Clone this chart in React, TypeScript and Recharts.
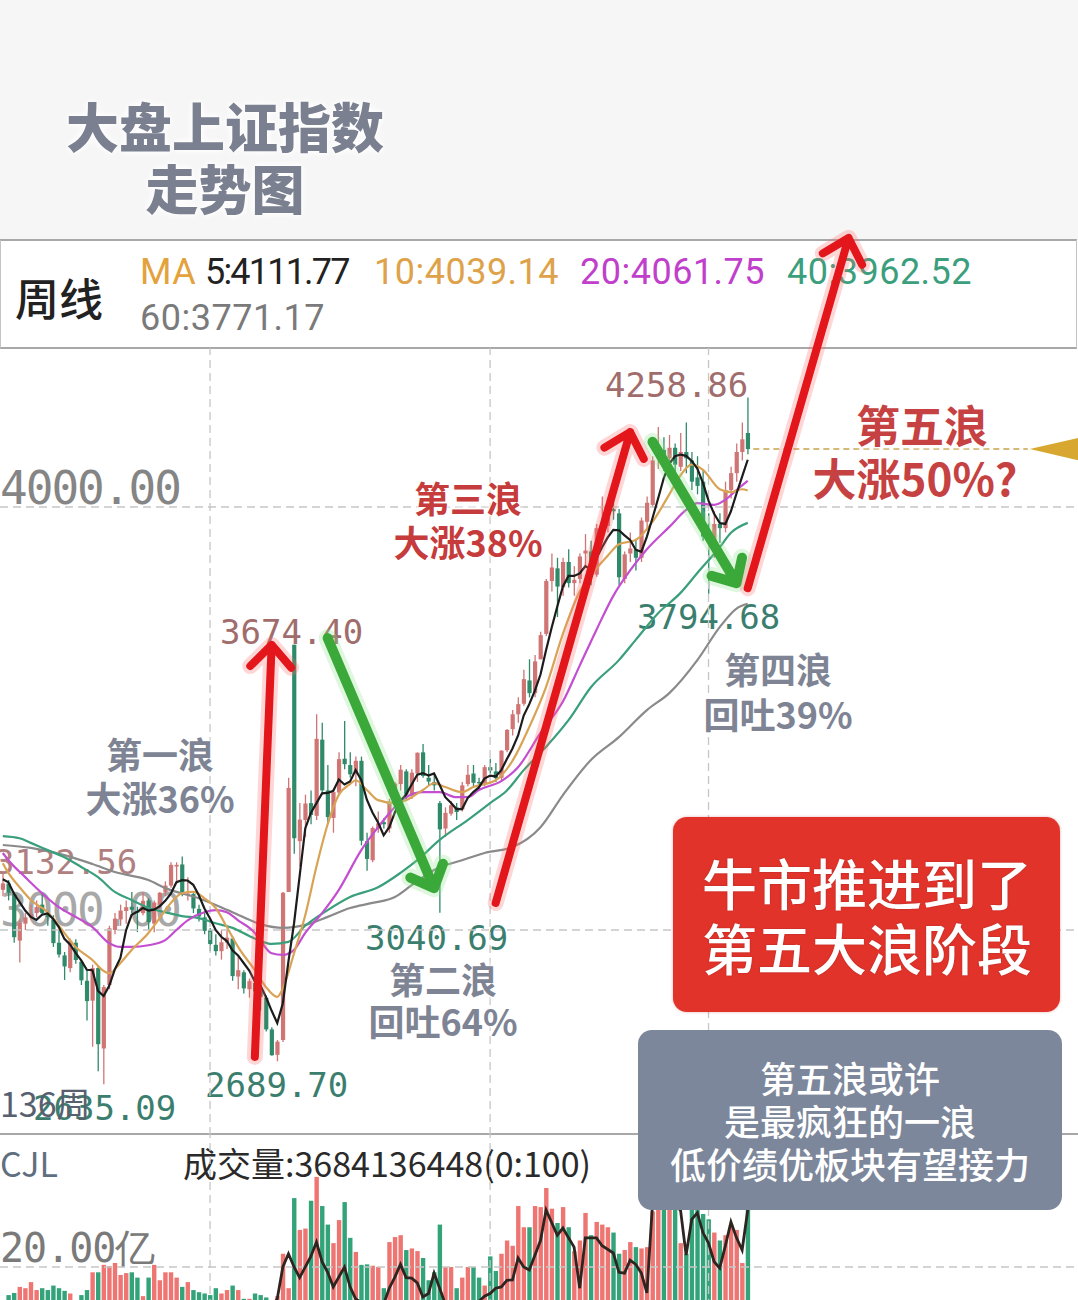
import React from 'react';
import { ComposedChart, Bar, Line, XAxis, YAxis, ReferenceLine } from 'recharts';

// ---------- layout constants ----------
const SLOTS = 193; // weekly slots across the full width (134 weeks of data + empty room on the right)
const CHART_W = 1081;
const PRICE_DOMAIN: [number, number] = [2515.4, 4375.9];
const VOL_DOMAIN: [number, number] = [0, 69.81];

// ---------- weekly candles (index 0 = week of 2023-09-25) ----------
const opens = [
  3095, 3110, 3085, 2975, 3015, 3030, 3040, 3060, 3035, 3025, 2970, 2940, 2910, 2970, 2925, 2880, 2833, 2910, 2720, 2870,
  3000, 3025, 3045, 3055, 3045, 3040, 3070, 3015, 3060, 3090, 3105, 3150, 3155, 3085, 3085, 3050, 3030, 3000, 2965, 2950,
  2970, 2980, 2890, 2900, 2860, 2875, 2855, 2840, 2765, 2705, 2740, 3090, 3674.4, 3210, 3260, 3300, 3270, 3450, 3330, 3265,
  3325, 3405, 3390, 3370, 3400, 3210, 3165, 3240, 3255, 3240, 3300, 3345, 3375, 3320, 3370, 3420, 3360, 3350, 3300, 3240,
  3275, 3290, 3285, 3345, 3370, 3350, 3345, 3385, 3375, 3360, 3425, 3475, 3510, 3535, 3590, 3560, 3640, 3700, 3825, 3855,
  3810, 3870, 3820, 3830, 3890, 3895, 3840, 3950, 3955, 3995, 3985, 3830, 3890, 3900, 3880, 3965, 4005, 4115, 4135, 4115,
  4140, 4095, 4130, 4110, 4070, 4060, 3930, 3920, 3960, 3950, 4040, 4080, 4130, 4175,
];
const highs = [
  3132.56, 3118, 3090, 3025, 3040, 3060, 3070, 3090, 3045, 3035, 3000, 2948, 2980, 2978, 2930, 2905, 2918, 2915, 2870, 3010,
  3040, 3060, 3070, 3090, 3055, 3090, 3075, 3070, 3090, 3115, 3160, 3160, 3174, 3125, 3090, 3060, 3045, 3005, 2990, 3000,
  3000, 2985, 2940, 2905, 2885, 2890, 2860, 2845, 2770, 2740, 3090, 3360, 3674.4, 3300, 3320, 3330, 3510, 3490, 3390, 3330,
  3420, 3494, 3420, 3410, 3410, 3230, 3245, 3280, 3265, 3310, 3350, 3390, 3380, 3380, 3420, 3440, 3390, 3370, 3305, 3290,
  3305, 3300, 3350, 3390, 3390, 3360, 3390, 3405, 3395, 3425, 3475, 3520, 3550, 3615, 3640, 3650, 3705, 3830, 3890, 3880,
  3880, 3900, 3860, 3890, 3936, 3920, 3960, 4025, 4010, 4030, 3995, 3895, 3940, 3925, 3975, 4025, 4120, 4189, 4165, 4170,
  4150, 4175, 4200, 4130, 4120, 4090, 3985, 3990, 3985, 4060, 4095, 4150, 4200, 4258.86,
];
const lows = [
  3080, 3070, 2970, 2923, 3000, 3025, 3030, 3035, 3010, 2960, 2935, 2882, 2900, 2920, 2870, 2786, 2724, 2666, 2635.09, 2860,
  2990, 3010, 3015, 3040, 2995, 3035, 3000, 2995, 3050, 3080, 3100, 3110, 3080, 3070, 3040, 3020, 2990, 2950, 2940, 2930,
  2955, 2880, 2860, 2850, 2840, 2845, 2810, 2760, 2703, 2689.7, 2735, 3090, 3180, 3150, 3220, 3250, 3260, 3320, 3250, 3230,
  3320, 3380, 3360, 3340, 3200, 3140, 3160, 3230, 3240, 3230, 3290, 3330, 3310, 3310, 3350, 3360, 3340, 3330, 3040.69, 3220,
  3270, 3260, 3280, 3340, 3340, 3330, 3340, 3370, 3350, 3350, 3420, 3460, 3490, 3530, 3550, 3550, 3640, 3695, 3800, 3740,
  3790, 3810, 3790, 3820, 3860, 3815, 3835, 3940, 3940, 3970, 3815, 3820, 3870, 3850, 3870, 3950, 4000, 4090, 4085, 4100,
  4070, 4085, 4080, 4040, 4030, 3920, 3794.68, 3880, 3915, 3940, 4020, 4060, 4110, 4125,
];
const closes = [
  3110, 3088, 2983, 3017, 3030, 3038, 3054, 3040, 3031, 2969, 2942, 2914, 2975, 2929, 2881, 2832, 2910, 2730, 2865, 3004,
  3027, 3046, 3054, 3048, 3041, 3069, 3019, 3065, 3088, 3105, 3154, 3154, 3088, 3086, 3051, 3032, 2998, 2967, 2950, 2971,
  2982, 2891, 2905, 2862, 2879, 2855, 2842, 2765, 2704, 2736, 3088, 3336, 3217, 3261, 3299, 3272, 3452, 3330, 3267, 3326,
  3404, 3392, 3368, 3400, 3211, 3168, 3241, 3252, 3250, 3303, 3346, 3379, 3320, 3372, 3419, 3364, 3351, 3342, 3238, 3277,
  3295, 3279, 3342, 3367, 3348, 3347, 3385, 3377, 3359, 3424, 3473, 3510, 3534, 3593, 3560, 3635, 3697, 3825, 3857, 3812,
  3870, 3820, 3828, 3883, 3897, 3839, 3950, 3955, 3997, 3990, 3834, 3888, 3902, 3880, 3968, 4010, 4110, 4130, 4120, 4140,
  4100, 4130, 4115, 4060, 4050, 3930, 3920, 3960, 3950, 4040, 4080, 4130, 4160, 4137,
];
// weekly volume, in 亿
const volumes = [
  7, 9.4, 10.2, 12.5, 12, 14.3, 11.3, 12, 11.3, 13, 12, 11, 10, 7, 9.4, 11.3, 18, 18, 20.8, 20.4,
  21.5, 17, 17.7, 18, 16, 9, 16, 20.8, 15, 18, 18, 16, 12.5, 14.3, 11.3, 10.5, 10, 9.4, 12, 10,
  11.3, 13, 11.3, 8, 8, 10, 9.4, 8.5, 7.5, 9, 25, 12, 46, 34, 34.5, 45, 54, 43, 36, 29,
  37.7, 44.5, 31, 25.7, 20.8, 21, 20.5, 20, 12, 29.4, 31.3, 32, 26.4, 27, 26, 23.4, 15, 18, 36, 20,
  20, 12, 16, 20, 20, 16, 13, 24, 18.5, 25, 30, 28, 43, 35, 35, 43, 42.6, 49.8, 42, 36.6,
  42.6, 35, 26, 30, 40.4, 32, 37, 36, 35, 33, 25, 26.4, 29.4, 27.5, 27, 27.5, 41, 50, 48, 45,
  42, 29, 25, 44, 46, 40, 38, 33, 30, 32, 36, 34, 21.5, 44,
];

// ---------- moving averages ----------
const ma5 = [
  3120, 3113, 3086, 3066, 3046, 3031, 3024, 3036, 3039, 3026, 3007, 2979, 2966, 2946, 2928, 2906, 2905, 2856, 2844, 2868,
  2907, 2934, 2999, 3036, 3043, 3052, 3046, 3048, 3056, 3069, 3086, 3113, 3118, 3117, 3107, 3082, 3051, 3027, 3000, 2984,
  2974, 2952, 2940, 2922, 2904, 2878, 2869, 2841, 2809, 2780, 2827, 2926, 3016, 3128, 3240, 3277, 3300, 3323, 3324, 3329,
  3356, 3344, 3351, 3378, 3355, 3308, 3278, 3254, 3224, 3243, 3278, 3306, 3320, 3344, 3367, 3371, 3365, 3370, 3343, 3314,
  3301, 3286, 3286, 3312, 3326, 3337, 3358, 3365, 3363, 3378, 3404, 3429, 3460, 3507, 3534, 3566, 3604, 3662, 3715, 3765,
  3812, 3837, 3837, 3843, 3860, 3853, 3879, 3905, 3928, 3946, 3945, 3933, 3922, 3899, 3894, 3930, 3974, 4020, 4068, 4102,
  4120, 4124, 4121, 4109, 4091, 4057, 4015, 3984, 3962, 3960, 3990, 4032, 4072, 4111.77,
];
const ma10Pts: [number, number][] = [
  [0, 3158], [1, 3135], [3, 3101], [5, 3071], [8, 3042], [10, 3010], [13, 2960], [16, 2929], [18, 2903], [19, 2898],
  [21, 2922], [23, 2953], [26, 2993], [28, 3028], [30, 3064], [32, 3087], [34, 3090], [36, 3075], [38, 3052], [40, 3007],
  [42, 2960], [45, 2905], [47, 2865], [49, 2842], [50, 2862], [52, 2945], [54, 3035], [56, 3150], [58, 3250], [60, 3320],
  [62, 3345], [63, 3354], [65, 3331], [67, 3307], [70, 3300], [72, 3307], [75, 3331], [77, 3347], [79, 3338], [82, 3326],
  [84, 3338], [88, 3354], [91, 3400], [94, 3480], [97, 3575], [100, 3700], [103, 3800], [106, 3855], [108, 3885],
  [110, 3912], [113, 3922], [116, 3965], [119, 4030], [121, 4075], [123, 4100], [125, 4088], [128, 4042], [130, 4035],
  [132, 4042], [133, 4039.14],
];
const ma20Pts: [number, number][] = [
  [0, 3182], [1, 3165], [4, 3125], [7, 3087], [10, 3054], [13, 3031], [16, 3007], [19, 2969], [21, 2960], [23, 2960],
  [26, 2964], [29, 2976], [31, 3000], [33, 3023], [36, 3042], [38, 3047], [40, 3042], [42, 3023], [45, 2993], [46, 2975],
  [48, 2945], [50, 2941], [52, 2953], [54, 2993], [57, 3040], [60, 3095], [64, 3189], [67, 3243], [70, 3291], [72, 3314],
  [75, 3326], [78, 3326], [81, 3314], [83, 3314], [85, 3331], [89, 3352], [92, 3385], [96, 3466], [100, 3540], [103, 3625],
  [106, 3710], [109, 3790], [112, 3850], [115, 3900], [119, 3953], [122, 3993], [124, 4009], [127, 4005], [129, 4017],
  [131, 4040], [133, 4061.75],
];
const ma40Pts: [number, number][] = [
  [0, 3222], [3, 3217], [5, 3206], [8, 3189], [11, 3172], [14, 3149], [17, 3125], [20, 3090], [23, 3071], [26, 3052],
  [29, 3042], [32, 3033], [35, 3028], [38, 3016], [41, 3005], [44, 2986], [46, 2974], [48, 2967], [51, 2972], [54, 3010],
  [58, 3047], [62, 3078], [67, 3101], [71, 3135], [74, 3165], [78, 3213], [83, 3260], [87, 3300], [90, 3330], [93, 3378],
  [97, 3433], [101, 3496], [105, 3574], [110, 3638], [113, 3686], [117, 3749], [121, 3797], [124, 3844], [128, 3905],
  [130, 3939], [133, 3962.52],
];
const ma60Pts: [number, number][] = [
  [0, 3201], [5, 3194], [11, 3177], [16, 3156], [20, 3137], [26, 3118], [29, 3099], [35, 3075], [41, 3042], [46, 3014],
  [50, 3005], [54, 3012], [58, 3031], [62, 3052], [66, 3064], [70, 3078], [73, 3106], [77, 3142], [82, 3165], [86, 3182],
  [91, 3196], [96, 3243], [100, 3319], [105, 3402], [110, 3456], [115, 3520], [119, 3560], [124, 3638], [128, 3716],
  [131, 3760], [133, 3771.17],
];
// dark line in the volume panel
const volLinePts: [number, number][] = [
  [0, 5], [25, 5], [48, 5], [49, 8], [50, 20], [51, 25], [52, 20], [53, 16], [55, 24], [56, 29.4], [57, 22], [58, 18],
  [59, 12.5], [61, 20], [62, 12.5], [63, 8], [65, 5], [68, 6], [69, 12], [70, 16.2], [71, 21], [72, 16], [73, 15.8],
  [74, 14], [75, 8.7], [76, 10], [77, 17.7], [78, 12], [79, 6], [84, 5], [86, 9], [87, 10], [88, 12], [89, 12.5], [90, 15],
  [91, 15.1], [92, 23.4], [93, 20], [94, 18.9], [96, 30], [97, 41.5], [99, 32], [100, 34.7], [101, 31], [102, 27.5],
  [103, 12], [104, 31], [106, 31], [107, 28], [109, 25.3], [110, 18], [111, 17.7], [112, 22.6], [113, 21], [114, 17.7],
  [115, 10.2], [116, 44], [117, 48], [118, 50], [119, 46], [120, 43], [121, 41.5], [122, 24.5], [123, 38], [124, 40.4],
  [125, 33], [126, 29], [127, 22], [128, 19.6], [129, 28], [130, 37], [131, 31], [132, 26.4], [133, 41.5],
];

// ---------- reference values ----------
const gridPrices = [4000, 3000];
const gridVolumes = [20];
const dividerWeeks = [37, 87, 126];
const lastPrice = 4137;
const lastPriceSpan: [number, number] = [134, 183];

// annotation arrows: [week, price] -> [week, price]
const arrows = [
  { from: [45, 2700], to: [48, 3674], dir: 'up' },
  { from: [58, 3690], to: [77, 3099], dir: 'down' },
  { from: [88, 3064], to: [112, 4177], dir: 'up' },
  { from: [116, 4154], to: [131, 3820], dir: 'down' },
  { from: [133, 3808], to: [151, 4636], dir: 'up' },
];

// ---------- colours ----------
const UP = '#d07474';
const DN = '#2f8a69';
const VUP = '#ee7572';
const VDN = '#33a47a';
const C_MA5 = '#1c1c1c';
const C_MA10 = '#d9a356';
const C_MA20 = '#c34fd0';
const C_MA40 = '#3a9f7b';
const C_MA60 = '#8a8a8a';

// ---------- table ----------
const rows = Array.from({ length: SLOTS }, (_, i) => {
  const r: Record<string, any> = { i };
  if (i < closes.length) {
    r.o = opens[i];
    r.h = highs[i];
    r.l = lows[i];
    r.c = closes[i];
    r.range = [lows[i], highs[i]];
    r.up = closes[i] >= opens[i];
    r.vol = volumes[i];
    r.ma5 = ma5[i];
  }
  return r;
});
const put = (key: string, pts: [number, number][]) => pts.forEach(([i, v]) => { rows[i][key] = v; });
put('ma10', ma10Pts);
put('ma20', ma20Pts);
put('ma40', ma40Pts);
put('ma60', ma60Pts);
put('vma', volLinePts);

// ---------- shapes ----------
function Candle(props: any) {
  const { x, y, width, height, payload } = props;
  if (!payload || payload.h == null || x == null || y == null) return null;
  const top = Math.min(y, y + height);
  const h = Math.abs(height);
  const k = h / Math.max(1e-6, payload.h - payload.l);
  const yo = top + (payload.h - payload.o) * k;
  const yc = top + (payload.h - payload.c) * k;
  const cx = x + width / 2;
  const col = payload.up ? UP : DN;
  const bt = Math.min(yo, yc);
  const bh = Math.max(1.3, Math.abs(yc - yo));
  return (
    <g>
      <line x1={cx} x2={cx} y1={top} y2={top + h} stroke={col} strokeWidth={1.3} />
      <rect x={cx - 2.1} y={bt} width={4.2} height={bh} fill={col} />
    </g>
  );
}

function VolBar(props: any) {
  const { x, y, width, height, payload } = props;
  if (!payload || payload.vol == null || x == null) return null;
  const top = Math.min(y, y + height);
  const cx = x + width / 2;
  return <rect x={cx - 2.2} y={top} width={4.4} height={Math.abs(height)} fill={payload.up ? VUP : VDN} />;
}

function arrowShape(color: string, glow: string, w: number, head: number) {
  return (p: any) => {
    const { x1, y1, x2, y2 } = p;
    if (![x1, y1, x2, y2].every((v) => typeof v === 'number' && isFinite(v))) return <g />;
    const ang = Math.atan2(y2 - y1, x2 - x1);
    const back = ang + Math.PI;
    const s = 0.75;
    const hx1 = x2 + head * Math.cos(back - s);
    const hy1 = y2 + head * Math.sin(back - s);
    const hx2 = x2 + head * Math.cos(back + s);
    const hy2 = y2 + head * Math.sin(back + s);
    const d = `M${x1},${y1}L${x2},${y2}M${hx1},${hy1}L${x2},${y2}L${hx2},${hy2}`;
    return (
      <g>
        <path d={d} fill="none" stroke={glow} strokeWidth={w + 8} strokeLinecap="round" strokeLinejoin="round" opacity={0.28} />
        <path d={d} fill="none" stroke={color} strokeWidth={w} strokeLinecap="round" strokeLinejoin="round" />
      </g>
    );
  };
}

const priceLineShape = (p: any) => {
  const { x1, y1, x2 } = p;
  if (![x1, y1, x2].every((v) => typeof v === 'number' && isFinite(v))) return <g />;
  return (
    <g>
      <line x1={x1} y1={y1} x2={x2} y2={y1} stroke="#c8a24c" strokeWidth={1.6} strokeDasharray="6 4" />
      <polygon points={`${x2 + 2},${y1} ${x2 + 54},${y1 - 12} ${x2 + 54},${y1 + 12}`} fill="#d8a72f" />
    </g>
  );
};

// ---------- text helpers ----------
const CJK = "'Noto Sans CJK SC', 'Noto Sans', sans-serif";
const MONO = "'DejaVu Sans Mono', monospace";
const LATIN = "Roboto, 'Noto Sans CJK SC', sans-serif";

function Txt({ x, y, anchor = 'middle', children, style }: any) {
  return (
    <div
      style={{
        position: 'absolute',
        left: x,
        top: y,
        transform: `translate(${anchor === 'start' ? '0' : '-50%'}, -50%)`,
        whiteSpace: 'nowrap',
        lineHeight: 1,
        ...style,
      }}
    >
      {children}
    </div>
  );
}

const glowWhite = '0 0 3px #fff, 0 0 6px #fff, 0 0 8px #fff';
const waveGray = { fontFamily: CJK, fontWeight: 700, fontSize: 36, color: '#7e8494', textShadow: glowWhite };
const waveRed = { fontFamily: CJK, fontWeight: 700, fontSize: 36, color: '#c63b3b', textShadow: glowWhite };
const hiLabel = { fontFamily: MONO, fontSize: 34, color: '#a06c6c' };
const loLabel = { fontFamily: MONO, fontSize: 34, color: '#3b7e6e' };
const headStyle = { fontFamily: LATIN, fontSize: 36, letterSpacing: 0.5 };

export default function App() {
  return (
    <div style={{ position: 'absolute', left: 0, top: 0, width: 1078, height: 1300, overflow: 'hidden', background: '#fff' }}>
      {/* ---------- background layer ---------- */}
      <div style={{ position: 'absolute', left: 0, top: 0, width: 1078, height: 240, background: '#f6f6f6' }} />
      <Txt x={225} y={125} style={{ fontFamily: CJK, fontWeight: 900, fontSize: 53, color: '#7b8090', textShadow: glowWhite }}>大盘上证指数</Txt>
      <Txt x={225} y={187} style={{ fontFamily: CJK, fontWeight: 900, fontSize: 53, color: '#7b8090', textShadow: glowWhite }}>走势图</Txt>

      <div
        style={{
          position: 'absolute', left: 0, top: 239, width: 1075, height: 106, background: '#fff',
          borderTop: '2px solid #a8a8a8', borderBottom: '2px solid #a8a8a8', borderLeft: '1px solid #c4c4c4', borderRight: '1px solid #c4c4c4',
        }}
      />
      <Txt x={15} y={297} anchor="start" style={{ fontFamily: CJK, fontWeight: 500, fontSize: 44, color: '#222' }}>周线</Txt>
      <Txt x={140} y={272} anchor="start" style={{ ...headStyle, color: '#e3a23b' }}>MA</Txt>
      <Txt x={205} y={272} anchor="start" style={{ ...headStyle, letterSpacing: -1.8, color: '#222' }}>5:4111.77</Txt>
      <Txt x={374} y={272} anchor="start" style={{ ...headStyle, color: '#dea24a' }}>10:4039.14</Txt>
      <Txt x={580} y={272} anchor="start" style={{ ...headStyle, color: '#c03fcb' }}>20:4061.75</Txt>
      <Txt x={787} y={272} anchor="start" style={{ ...headStyle, color: '#3b9f7d' }}>40:3962.52</Txt>
      <Txt x={140} y={318} anchor="start" style={{ ...headStyle, color: '#7a7a7a' }}>60:3771.17</Txt>

      {/* axis labels */}
      <Txt x={0} y={488} anchor="start" style={{ fontFamily: MONO, fontSize: 46, letterSpacing: -2, color: '#858585' }}>4000.00</Txt>
      <Txt x={0} y={910} anchor="start" style={{ fontFamily: MONO, fontSize: 46, letterSpacing: -2, color: '#a8a8a8' }}>3000.00</Txt>

      {/* extreme value labels */}
      <Txt x={605} y={385} anchor="start" style={hiLabel}>4258.86</Txt>
      <Txt x={220} y={632} anchor="start" style={hiLabel}>3674.40</Txt>
      <Txt x={-6} y={862} anchor="start" style={{ ...hiLabel, color: '#b08080' }}>3132.56</Txt>
      <Txt x={365} y={938} anchor="start" style={loLabel}>3040.69</Txt>
      <Txt x={637} y={617} anchor="start" style={loLabel}>3794.68</Txt>
      <Txt x={205} y={1085} anchor="start" style={loLabel}>2689.70</Txt>
      <Txt x={33} y={1108} anchor="start" style={loLabel}>2635.09</Txt>
      <Txt x={0} y={1103} anchor="start" style={{ fontFamily: CJK, fontSize: 34, color: '#586070' }}>136周</Txt>

      {/* volume panel texts */}
      <div style={{ position: 'absolute', left: 0, top: 1133, width: 1078, height: 2, background: '#a8a8a8' }} />
      <Txt x={0} y={1163} anchor="start" style={{ fontFamily: CJK, fontSize: 34, color: '#5f6f80' }}>CJL</Txt>
      <Txt x={183} y={1163} anchor="start" style={{ fontFamily: CJK, fontSize: 34, color: '#2a2a2a' }}>成交量:3684136448(0:100)</Txt>
      <Txt x={0} y={1248} anchor="start" style={{ fontFamily: MONO, fontSize: 40, letterSpacing: -1, color: '#7a7a7a' }}>20.00亿</Txt>

      {/* ---------- price chart ---------- */}
      <div style={{ position: 'absolute', left: 0, top: 0 }}>
        <ComposedChart width={CHART_W} height={1135} data={rows} margin={{ top: 348, right: 0, bottom: 0, left: 0 }}>
          <XAxis dataKey="i" type="category" hide />
          <YAxis type="number" domain={PRICE_DOMAIN} allowDataOverflow hide />
          {gridPrices.map((p) => (
            <ReferenceLine key={'gp' + p} y={p} stroke="#c6c6c6" strokeWidth={1.3} strokeDasharray="8 5" />
          ))}
          {dividerWeeks.map((w) => (
            <ReferenceLine key={'dw' + w} x={w} stroke="#c6c6c6" strokeWidth={1.3} strokeDasharray="8 5" />
          ))}
          <Bar dataKey="range" barSize={4} shape={Candle} isAnimationActive={false} />
          <Line dataKey="ma60" stroke={C_MA60} strokeWidth={2.2} dot={false} activeDot={false} connectNulls type="monotone" isAnimationActive={false} />
          <Line dataKey="ma40" stroke={C_MA40} strokeWidth={2.2} dot={false} activeDot={false} connectNulls type="monotone" isAnimationActive={false} />
          <Line dataKey="ma20" stroke={C_MA20} strokeWidth={2.2} dot={false} activeDot={false} connectNulls type="monotone" isAnimationActive={false} />
          <Line dataKey="ma10" stroke={C_MA10} strokeWidth={2.2} dot={false} activeDot={false} connectNulls type="monotone" isAnimationActive={false} />
          <Line dataKey="ma5" stroke={C_MA5} strokeWidth={2.2} dot={false} activeDot={false} connectNulls type="linear" isAnimationActive={false} />
          <ReferenceLine
            segment={[{ x: lastPriceSpan[0], y: lastPrice }, { x: lastPriceSpan[1], y: lastPrice }]}
            ifOverflow="visible"
            shape={priceLineShape}
          />
          {arrows.map((a, k) => (
            <ReferenceLine
              key={'ar' + k}
              segment={[{ x: a.from[0], y: a.from[1] }, { x: a.to[0], y: a.to[1] }]}
              ifOverflow="visible"
              shape={a.dir === 'up' ? arrowShape('#e3161c', '#ff6b6b', 8, 30) : arrowShape('#3ba93a', '#8de28a', 10, 26)}
            />
          ))}
        </ComposedChart>
      </div>

      {/* ---------- volume chart ---------- */}
      <div style={{ position: 'absolute', left: 0, top: 1135 }}>
        <ComposedChart width={CHART_W} height={185} data={rows} margin={{ top: 0, right: 0, bottom: 0, left: 0 }}>
          <XAxis dataKey="i" type="category" hide />
          <YAxis type="number" domain={VOL_DOMAIN} allowDataOverflow hide />
          {gridVolumes.map((v) => (
            <ReferenceLine key={'gv' + v} y={v} stroke="#c6c6c6" strokeWidth={1.3} strokeDasharray="8 5" />
          ))}
          {dividerWeeks.map((w) => (
            <ReferenceLine key={'vw' + w} x={w} stroke="#c6c6c6" strokeWidth={1.3} strokeDasharray="8 5" />
          ))}
          <Bar dataKey="vol" barSize={4} shape={VolBar} isAnimationActive={false} />
          <Line dataKey="vma" stroke="#2e2420" strokeWidth={2.8} dot={false} activeDot={false} connectNulls type="linear" isAnimationActive={false} />
        </ComposedChart>
      </div>

      {/* ---------- overlay: wave labels and callouts ---------- */}
      <Txt x={160} y={753} style={waveGray}>第一浪</Txt>
      <Txt x={160} y={797} style={waveGray}>大涨36%</Txt>
      <Txt x={468} y={497} style={waveRed}>第三浪</Txt>
      <Txt x={468} y={541} style={waveRed}>大涨38%</Txt>
      <Txt x={443} y={978} style={waveGray}>第二浪</Txt>
      <Txt x={443} y={1020} style={waveGray}>回吐64%</Txt>
      <Txt x={778} y={668} style={waveGray}>第四浪</Txt>
      <Txt x={778} y={713} style={waveGray}>回吐39%</Txt>
      <Txt x={922} y={424} style={{ ...waveRed, fontSize: 44, color: '#c64242' }}>第五浪</Txt>
      <Txt x={915} y={477} style={{ ...waveRed, fontSize: 44, color: '#c64242' }}>大涨50%?</Txt>

      <div style={{ position: 'absolute', left: 673, top: 817, width: 387, height: 195, borderRadius: 14, background: '#e2332b', boxShadow: '0 0 3px rgba(200,60,60,0.4)' }} />
      <Txt x={867} y={881} style={{ fontFamily: CJK, fontWeight: 500, fontSize: 55, color: '#fff', textShadow: '0 0 2px rgba(0,0,0,0.25)' }}>牛市推进到了</Txt>
      <Txt x={867} y={946} style={{ fontFamily: CJK, fontWeight: 500, fontSize: 55, color: '#fff', textShadow: '0 0 2px rgba(0,0,0,0.25)' }}>第五大浪阶段</Txt>

      <div style={{ position: 'absolute', left: 638, top: 1030, width: 424, height: 180, borderRadius: 14, background: '#7d879b' }} />
      <Txt x={850} y={1077} style={{ fontFamily: CJK, fontWeight: 500, fontSize: 36, color: '#fff' }}>第五浪或许</Txt>
      <Txt x={850} y={1120} style={{ fontFamily: CJK, fontWeight: 500, fontSize: 36, color: '#fff' }}>是最疯狂的一浪</Txt>
      <Txt x={850} y={1163} style={{ fontFamily: CJK, fontWeight: 500, fontSize: 36, color: '#fff' }}>低价绩优板块有望接力</Txt>
    </div>
  );
}
